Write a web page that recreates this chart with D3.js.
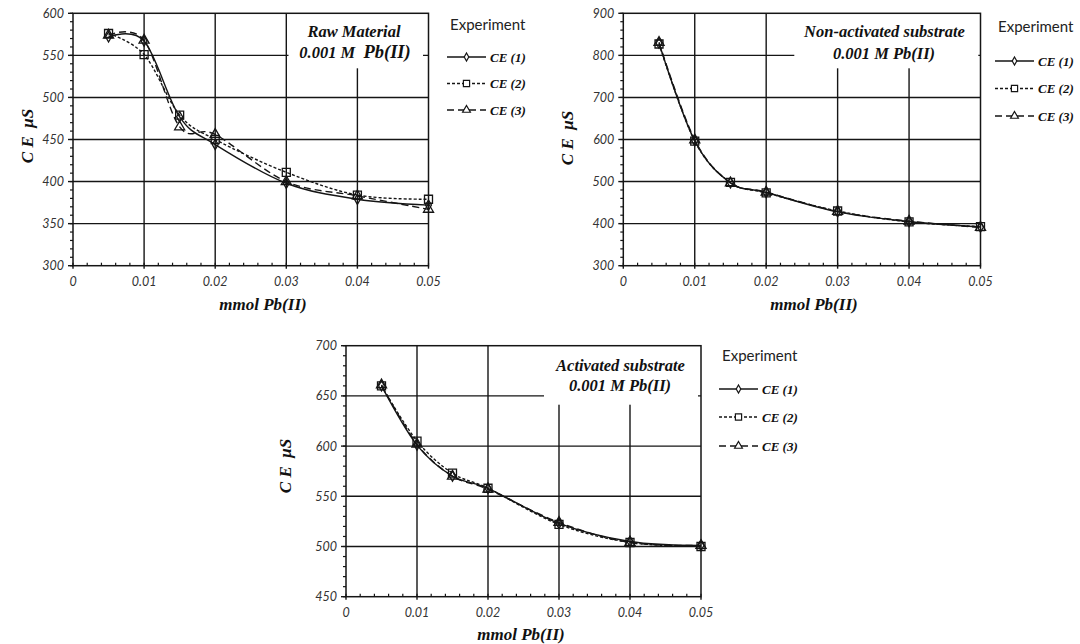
<!DOCTYPE html>
<html>
<head>
<meta charset="utf-8">
<script src="https://cdn.jsdelivr.net/npm/d3@7"></script>
<style>
  body { margin: 0; background: #fff; }
  svg { display: block; }
  .tick-label { font-family: Lato, "Liberation Sans", sans-serif; font-style: italic; font-size: 12.5px; fill: #333; }
  .axis-title { font-family: "Liberation Serif", serif; font-style: italic; font-weight: bold; font-size: 17px; fill: #111; white-space: pre; }
  .panel-label { font-family: "Liberation Serif", serif; font-style: italic; font-weight: bold; font-size: 16.5px; fill: #111; }
  .legend-title { font-family: Lato, "Open Sans", sans-serif; font-size: 15px; fill: #222; }
  .legend-text { font-family: "Liberation Serif", serif; font-style: italic; font-weight: bold; font-size: 13px; fill: #111; }
</style>
</head>
<body>
<div id="chart"></div>
<script>
// x values shared by all three experiments (mmol Pb(II))
const xValues = [0.005, 0.01, 0.015, 0.02, 0.03, 0.04, 0.05];
const xTicks = [0, 0.01, 0.02, 0.03, 0.04, 0.05];
const seriesNames = ["CE (1)", "CE (2)", "CE (3)"];

// Raw material
const rawCE1 = [572, 567, 477, 444, 398, 379, 372];
const rawCE2 = [576, 551, 479, 450, 411, 384, 379];
const rawCE3 = [574, 568, 465, 456, 400, 383, 367];
const rawYTicks = [300, 350, 400, 450, 500, 550, 600];

// Non-activated substrate
const nonActCE1 = [829, 597, 497, 474, 428, 405, 392];
const nonActCE2 = [827, 596, 498, 473, 430, 404, 393];
const nonActCE3 = [831, 599, 497, 475, 429, 406, 391];
const nonActYTicks = [300, 400, 500, 600, 700, 800, 900];

// Activated substrate
const actCE1 = [660, 601, 570, 558, 523, 505, 501];
const actCE2 = [660, 605, 573, 558, 522, 504, 500];
const actCE3 = [661, 602, 570, 557, 524, 504, 501];
const actYTicks = [450, 500, 550, 600, 650, 700];

const ink = "#151515";
const dashes = [null, "3,2", "7,4"];
const symbols = [d3.symbolDiamond, d3.symbolSquare, d3.symbolTriangle];
const symbolSizes = [30, 64, 44];

const panels = [
    {
        series: [rawCE1, rawCE2, rawCE3], yTicks: rawYTicks,
        left: 73, top: 13.3, width: 355.5, height: 252.4,
        box: { x0: 214.5, x1: 349, y1: 55 },
        label: [{ text: "Raw Material", x: 354, y: 36.5 }, { text: "0.001 M", big: "Pb(II)", x: 355, y: 58 }],
        yTitle: { x: 27, y: 136 }, xTitle: { x: 263, y: 310 },
        legend: { x: 447, titleY: 30, rows: [57, 83.5, 110] }
    },
    {
        series: [nonActCE1, nonActCE2, nonActCE3], yTicks: nonActYTicks,
        left: 623.3, top: 13.3, width: 357.2, height: 252.4,
        box: { x0: 170, x1: 354, y1: 55 },
        label: [{ text: "Non-activated substrate", x: 884.5, y: 37 }, { text: "0.001 M Pb(II)", x: 884, y: 59 }],
        yTitle: { x: 567, y: 138 }, xTitle: { x: 814, y: 310 },
        legend: { x: 995, titleY: 32, rows: [61, 88.5, 116] }
    },
    {
        series: [actCE1, actCE2, actCE3], yTicks: actYTicks,
        left: 346, top: 345.7, width: 355, height: 251,
        box: { x0: 197, x1: 351, y1: 59 },
        label: [{ text: "Activated substrate", x: 620.5, y: 371 }, { text: "0.001 M Pb(II)", x: 620, y: 391 }],
        yTitle: { x: 285, y: 466 }, xTitle: { x: 521, y: 640 },
        legend: { x: 719, titleY: 361, rows: [389, 417, 446] }
    }
];

const svg = d3.select("#chart").append("svg")
    .attr("width", 1080)
    .attr("height", 644);

function drawPanel(p) {
    const g = svg.append("g").attr("transform", `translate(${p.left},${p.top})`);
    const yMin = p.yTicks[0], yMax = p.yTicks[p.yTicks.length - 1];
    const yStep = p.yTicks[1] - p.yTicks[0];

    const x = d3.scaleLinear().domain([0, 0.05]).range([0, p.width]);
    const y = d3.scaleLinear().domain([yMin, yMax]).range([p.height, 0]);

    // grid
    g.append("g").selectAll("line").data(p.yTicks.slice(1, -1)).join("line")
        .attr("x1", 0).attr("x2", p.width)
        .attr("y1", d => y(d)).attr("y2", d => y(d))
        .attr("stroke", ink).attr("stroke-width", 1.4);
    g.append("g").selectAll("line").data(xTicks.slice(1, -1)).join("line")
        .attr("x1", d => x(d)).attr("x2", d => x(d))
        .attr("y1", 0).attr("y2", p.height)
        .attr("stroke", ink).attr("stroke-width", 1.4);

    // white label box hides the grid in the upper right corner
    g.append("rect")
        .attr("x", p.box.x0 + 1).attr("y", 0)
        .attr("width", p.box.x1 - p.box.x0).attr("height", p.box.y1)
        .attr("fill", "#fff");

    // frame
    g.append("rect")
        .attr("x", 0).attr("y", 0).attr("width", p.width).attr("height", p.height)
        .attr("fill", "none").attr("stroke", ink).attr("stroke-width", 1.5);

    // minor + major ticks on y axis (outside)
    const yMinor = d3.range(yMin, yMax + 0.001, yStep / 5);
    g.append("g").selectAll("line").data(yMinor).join("line")
        .attr("x1", -3).attr("x2", 0)
        .attr("y1", d => y(d)).attr("y2", d => y(d))
        .attr("stroke", ink).attr("stroke-width", 1.2);
    g.append("g").selectAll("line").data(p.yTicks).join("line")
        .attr("x1", -5).attr("x2", 0)
        .attr("y1", d => y(d)).attr("y2", d => y(d))
        .attr("stroke", ink).attr("stroke-width", 1.4);

    // minor ticks on x axis (inside), major ticks down
    const xMinor = d3.range(0, 0.0501, 0.002);
    g.append("g").selectAll("line").data(xMinor).join("line")
        .attr("x1", d => x(d)).attr("x2", d => x(d))
        .attr("y1", p.height - 3).attr("y2", p.height)
        .attr("stroke", ink).attr("stroke-width", 1.2);
    g.append("g").selectAll("line").data(xTicks).join("line")
        .attr("x1", d => x(d)).attr("x2", d => x(d))
        .attr("y1", p.height).attr("y2", p.height + 3)
        .attr("stroke", ink).attr("stroke-width", 1.4);

    // tick labels
    g.append("g").selectAll("text").data(p.yTicks).join("text")
        .attr("class", "tick-label")
        .attr("x", -9).attr("y", d => y(d)).attr("dy", "0.36em")
        .attr("text-anchor", "end")
        .text(d => d);
    g.append("g").selectAll("text").data(xTicks).join("text")
        .attr("class", "tick-label")
        .attr("x", d => x(d)).attr("y", p.height + 20.5)
        .attr("text-anchor", "middle")
        .text(d => d === 0 ? "0" : d3.format(".2f")(d));

    // series - smoothed like the spreadsheet's smoothed lines
    const line = d3.line()
        .x((d, i) => x(xValues[i]))
        .y(d => y(d))
        .curve(d3.curveCardinal.tension(0));

    p.series.forEach((vals, s) => {
        g.append("path")
            .datum(vals)
            .attr("d", line)
            .attr("fill", "none")
            .attr("stroke", ink)
            .attr("stroke-width", 1.4)
            .attr("stroke-dasharray", dashes[s]);
    });
    p.series.forEach((vals, s) => {
        g.append("g").selectAll("path").data(vals).join("path")
            .attr("transform", (d, i) => `translate(${x(xValues[i])},${y(d)})`)
            .attr("d", d3.symbol().type(symbols[s]).size(symbolSizes[s]))
            .attr("fill", "none")
            .attr("stroke", ink)
            .attr("stroke-width", 1.3);
    });

    // label inside the box
    p.label.forEach(l => {
        const t = svg.append("text")
            .attr("class", "panel-label")
            .attr("x", l.x).attr("y", l.y)
            .attr("text-anchor", "middle")
            .style("white-space", "pre")
            .text(l.text);
        if (l.big) {
            t.append("tspan").text("  ");
            t.append("tspan").style("font-size", "18.5px").text(l.big);
        }
    });

    // axis titles
    svg.append("text")
        .attr("class", "axis-title")
        .attr("transform", `translate(${p.yTitle.x},${p.yTitle.y}) rotate(-90)`)
        .attr("text-anchor", "middle")
        .attr("dy", "0.35em")
        .text("C E  \u03BCS");
    svg.append("text")
        .attr("class", "axis-title")
        .attr("x", p.xTitle.x).attr("y", p.xTitle.y)
        .attr("text-anchor", "middle")
        .text("mmol Pb(II)");

    // legend
    const lg = p.legend;
    svg.append("text")
        .attr("class", "legend-title")
        .attr("x", lg.x + 3).attr("y", lg.titleY)
        .text("Experiment");
    seriesNames.forEach((name, s) => {
        const ry = lg.rows[s];
        svg.append("line")
            .attr("x1", lg.x).attr("x2", lg.x + 39)
            .attr("y1", ry).attr("y2", ry)
            .attr("stroke", ink).attr("stroke-width", 1.3)
            .attr("stroke-dasharray", dashes[s]);
        svg.append("path")
            .attr("transform", `translate(${lg.x + 19.5},${ry})`)
            .attr("d", d3.symbol().type(symbols[s]).size(symbolSizes[s] * 0.6))
            .attr("fill", "#fff")
            .attr("stroke", ink)
            .attr("stroke-width", 1.2);
        svg.append("text")
            .attr("class", "legend-text")
            .attr("x", lg.x + 43).attr("y", ry).attr("dy", "0.35em")
            .text(name);
    });
}

panels.forEach(drawPanel);
</script>
</body>
</html>
